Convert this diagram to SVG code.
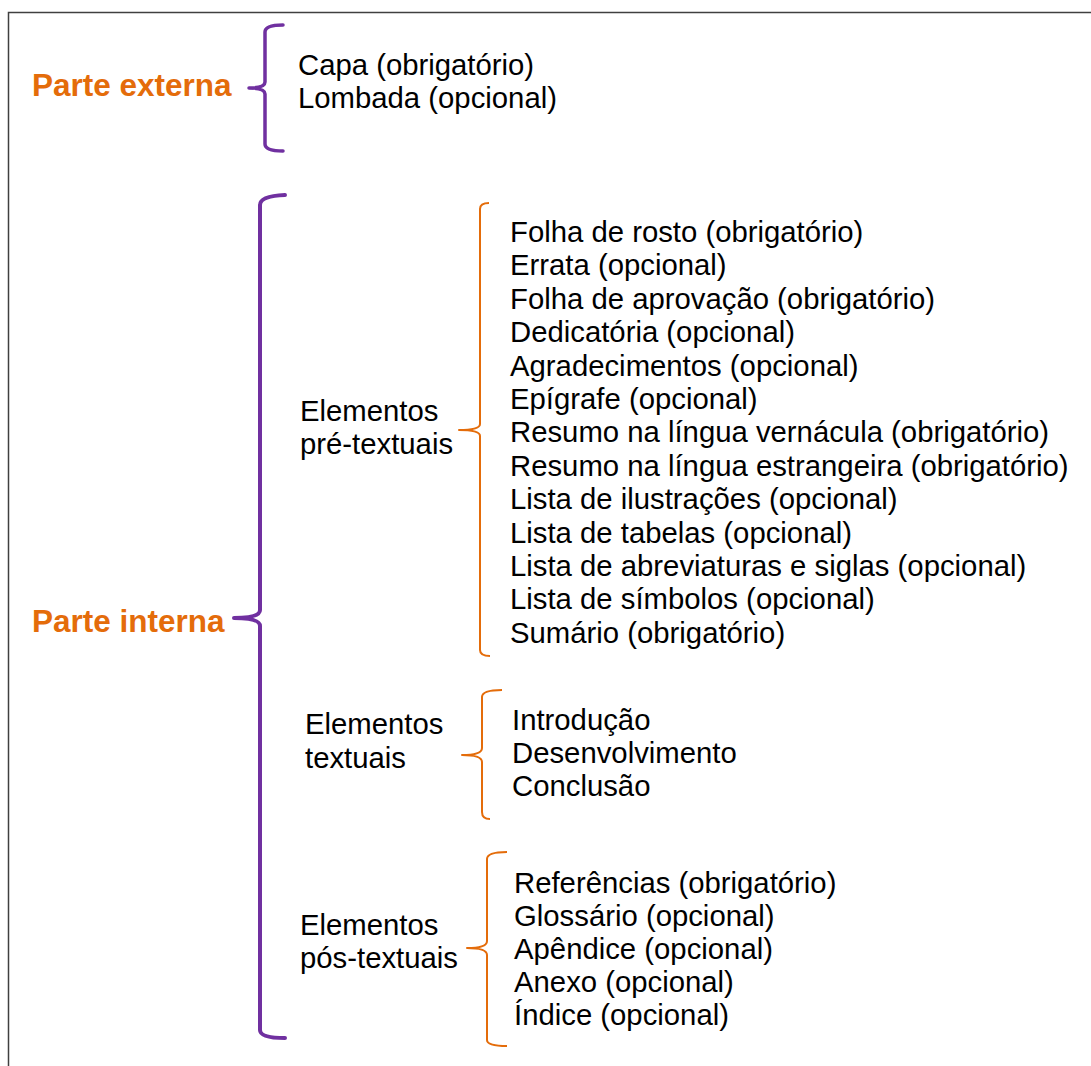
<svg xmlns="http://www.w3.org/2000/svg" width="1091" height="1066" viewBox="0 0 1091 1066">
<style>
.t{font-family:"Liberation Sans",Arial,sans-serif;font-size:29.3px;fill:#000}
.h{font-family:"Liberation Sans",Arial,sans-serif;font-size:31.5px;font-weight:bold;fill:#E46C0A}
.bp{fill:none;stroke:#7030A0;stroke-linecap:round;stroke-linejoin:round}
.bo{fill:none;stroke:#E46C0A;stroke-width:2;stroke-linejoin:round}
</style>
<rect x="0" y="0" width="1091" height="1066" fill="#fff"/>
<rect x="8.5" y="12.5" width="1100" height="1100" fill="none" stroke="#404040" stroke-width="1.5"/>
<g id="connectors">
<path class="bp" stroke-width="3.5" d="M283,25 Q265,25 265,32 L265,82 Q265,88 249,88 Q265,88 265,94 L265,144 Q265,151 283,151"/>
<path class="bp" stroke-width="4" d="M285,195 Q260,196 260,205 L260,610 Q260,618 234,618 Q260,618 260,626 L260,1030 Q260,1038 285,1038"/>
<path class="bo" d="M489,203 Q480,203 480,209 L480,424 Q480,430 459,430 Q480,430 480,436 L480,650 Q480,656 490,656"/>
<path class="bo" d="M502,690 Q482,690 482,697 L482,748 Q482,755 462,755 Q482,755 482,762 L482,812 Q482,819 490,819"/>
<path class="bo" d="M507,852 Q487,852 487,859 L487,941 Q487,948 467,948 Q487,948 487,955 L487,1040 Q487,1046 507,1046"/>
</g>
<g id="parte-externa"><text class="h" x="32" y="96">Parte externa</text></g>
<g id="externa-itens">
<text class="t" x="298" y="75">Capa (obrigatório)</text>
<text class="t" x="298" y="108">Lombada (opcional)</text>
</g>
<g id="parte-interna"><text class="h" x="32" y="632">Parte interna</text></g>
<g id="pre-textuais">
<text class="t" x="300" y="421">Elementos</text>
<text class="t" x="300" y="454">pré-textuais</text>
</g>
<g id="pre-itens">
<text class="t" x="510" y="242">Folha de rosto (obrigatório)</text>
<text class="t" x="510" y="275.4">Errata (opcional)</text>
<text class="t" x="510" y="308.8">Folha de aprovação (obrigatório)</text>
<text class="t" x="510" y="342.2">Dedicatória (opcional)</text>
<text class="t" x="510" y="375.6">Agradecimentos (opcional)</text>
<text class="t" x="510" y="409">Epígrafe (opcional)</text>
<text class="t" x="510" y="442.4">Resumo na língua vernácula (obrigatório)</text>
<text class="t" x="510" y="475.8">Resumo na língua estrangeira (obrigatório)</text>
<text class="t" x="510" y="509.2">Lista de ilustrações (opcional)</text>
<text class="t" x="510" y="542.6">Lista de tabelas (opcional)</text>
<text class="t" x="510" y="576">Lista de abreviaturas e siglas (opcional)</text>
<text class="t" x="510" y="609.4">Lista de símbolos (opcional)</text>
<text class="t" x="510" y="642.8">Sumário (obrigatório)</text>
</g>
<g id="textuais">
<text class="t" x="305" y="734">Elementos</text>
<text class="t" x="305" y="768">textuais</text>
</g>
<g id="textuais-itens">
<text class="t" x="512" y="730">Introdução</text>
<text class="t" x="512" y="763">Desenvolvimento</text>
<text class="t" x="512" y="796">Conclusão</text>
</g>
<g id="pos-textuais">
<text class="t" x="300" y="935">Elementos</text>
<text class="t" x="300" y="968">pós-textuais</text>
</g>
<g id="pos-itens">
<text class="t" x="514" y="893">Referências (obrigatório)</text>
<text class="t" x="514" y="926">Glossário (opcional)</text>
<text class="t" x="514" y="959">Apêndice (opcional)</text>
<text class="t" x="514" y="992">Anexo (opcional)</text>
<text class="t" x="514" y="1025">Índice (opcional)</text>
</g>
</svg>
